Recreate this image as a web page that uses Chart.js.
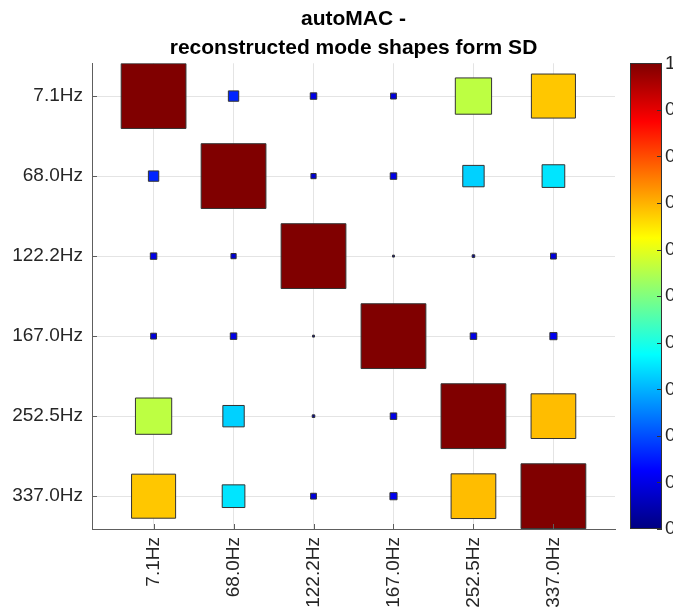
<!DOCTYPE html>
<html>
<head>
<meta charset="utf-8">
<script src="https://cdn.jsdelivr.net/npm/chart.js@4/dist/chart.umd.min.js"></script>
<style>
  html, body { margin: 0; padding: 0; background: #fff; overflow: hidden; width: 673px; height: 609px; }
  #wrap { position: relative; width: 673px; height: 609px; overflow: hidden; }
  #main { position: absolute; left: 0; top: 0; }
  #cbar { position: absolute; left: 600px; top: 0; }
</style>
</head>
<body>
<div id="wrap">
  <canvas id="main" width="673" height="609"></canvas>
  <canvas id="cbar" width="120" height="609"></canvas>
</div>
<script>
// Identified modes (both axes)
const modes = ['7.1Hz', '68.0Hz', '122.2Hz', '167.0Hz', '252.5Hz', '337.0Hz'];

// AutoMAC values, one row per mode
const mac_7_1   = [1.00, 0.16, 0.10, 0.09, 0.56, 0.68];
const mac_68_0  = [0.16, 1.00, 0.08, 0.10, 0.33, 0.35];
const mac_122_2 = [0.10, 0.08, 1.00, 0.03, 0.04, 0.09];
const mac_167_0 = [0.09, 0.10, 0.03, 1.00, 0.10, 0.11];
const mac_252_5 = [0.56, 0.33, 0.04, 0.10, 1.00, 0.69];
const mac_337_0 = [0.68, 0.35, 0.09, 0.11, 0.69, 1.00];
const macRows = [mac_7_1, mac_68_0, mac_122_2, mac_167_0, mac_252_5, mac_337_0];

// Colour bar ticks
const cbarTicks = [0, 0.1, 0.2, 0.3, 0.4, 0.5, 0.6, 0.7, 0.8, 0.9, 1];

const FONT = '"Liberation Sans", Arial, sans-serif';
const AXIS = '#5e5e5e';
const TXT = '#262626';
const TICK_SIZE = 19;

// MATLAB-style jet colour map
function jetRGB(v) {
  const c = t => Math.max(0, Math.min(1, t));
  return [c(1.5 - Math.abs(4 * v - 3)), c(1.5 - Math.abs(4 * v - 2)), c(1.5 - Math.abs(4 * v - 1))]
    .map(t => Math.round(t * 255));
}
function jet(v) { const [r, g, b] = jetRGB(v); return `rgb(${r},${g},${b})`; }

const points = [];
macRows.forEach((row, i) => row.forEach((v, j) => points.push({ x: j + 1, y: i + 1, v })));

const catTicks = s => { s.ticks = modes.map((_, k) => ({ value: k + 1 })); };

// short inward tick marks on the left and bottom axes
const innerTicks = {
  id: 'innerTicks',
  afterDraw(chart) {
    const { ctx, chartArea: a, scales: { x, y } } = chart;
    ctx.save();
    ctx.strokeStyle = AXIS;
    ctx.lineWidth = 1;
    ctx.beginPath();
    x.ticks.forEach(t => { const p = Math.round(x.getPixelForValue(t.value)) + 0.5; ctx.moveTo(p, a.bottom); ctx.lineTo(p, a.bottom - 5); });
    y.ticks.forEach(t => { const p = Math.round(y.getPixelForValue(t.value)) + 0.5; ctx.moveTo(a.left, p); ctx.lineTo(a.left + 5, p); });
    ctx.stroke();
    ctx.restore();
  }
};

new Chart(document.getElementById('main'), {
  type: 'scatter',
  data: {
    datasets: [{
      data: points,
      pointStyle: 'rect',
      pointRadius: ctx => {
        const xs = ctx.chart.scales.x;
        const unit = Math.abs(xs.getPixelForValue(1) - xs.getPixelForValue(0));
        return ctx.raw.v * 0.81 * unit / Math.SQRT2;
      },
      backgroundColor: ctx => jet(ctx.raw.v),
      borderColor: '#333333',
      borderWidth: 1
    }]
  },
  options: {
    responsive: false,
    animation: false,
    events: [],
    layout: { padding: { left: 0, right: 58, top: 0, bottom: 0 } },
    plugins: {
      legend: { display: false },
      tooltip: { enabled: false },
      title: {
        display: true,
        fullSize: false, // centred over the plot area
        text: ['autoMAC -', 'reconstructed mode shapes form SD'],
        color: '#000',
        font: { family: FONT, size: 21, weight: 'bold', lineHeight: 1.38 },
        padding: { top: 5, bottom: 0.3 }
      }
    },
    scales: {
      x: {
        type: 'linear', min: 0.23, max: 6.77,
        afterBuildTicks: catTicks,
        afterFit: s => { s.height = 80; },
        ticks: {
          autoSkip: false, maxRotation: 90, minRotation: 90, padding: 8,
          color: TXT, font: { family: FONT, size: TICK_SIZE },
          callback: v => modes[v - 1]
        },
        grid: { color: '#e4e4e4', drawTicks: false },
        border: { color: AXIS }
      },
      y: {
        type: 'linear', reverse: true, min: 0.59, max: 6.41,
        afterBuildTicks: catTicks,
        afterFit: s => { s.width = 92; },
        ticks: {
          autoSkip: false, padding: 9,
          color: TXT, font: { family: FONT, size: TICK_SIZE },
          callback: v => modes[v - 1]
        },
        grid: { color: '#e4e4e4', drawTicks: false },
        border: { color: AXIS }
      }
    }
  },
  plugins: [innerTicks]
});

// colour bar: frame and inward ticks on its right edge
const cbarFrame = {
  id: 'cbarFrame',
  afterDatasetsDraw(chart) {
    const { ctx, chartArea: a, scales: { y } } = chart;
    ctx.save();
    ctx.strokeStyle = '#333333';
    ctx.lineWidth = 1;
    ctx.strokeRect(Math.round(a.left) + 0.5, Math.round(a.top) + 0.5, Math.round(a.right - a.left) - 1, Math.round(a.bottom - a.top) - 1);
    ctx.beginPath();
    y.ticks.forEach(t => {
      const p = Math.round(y.getPixelForValue(t.value)) + 0.5;
      ctx.moveTo(a.right, p); ctx.lineTo(a.right - 5, p);
    });
    ctx.stroke();
    ctx.restore();
  }
};

new Chart(document.getElementById('cbar'), {
  type: 'bar',
  data: {
    labels: ['MAC'],
    datasets: [{
      data: [[0, 1]],
      barPercentage: 1,
      categoryPercentage: 1,
      borderWidth: 0,
      backgroundColor: ctx => {
        const chart = ctx.chart;
        if (!chart.chartArea) return '#800000';
        const y = chart.scales.y;
        const g = chart.ctx.createLinearGradient(0, y.getPixelForValue(0), 0, y.getPixelForValue(1));
        for (let k = 0; k <= 64; k++) g.addColorStop(k / 64, jet(k / 64));
        return g;
      }
    }]
  },
  options: {
    responsive: false,
    animation: false,
    events: [],
    layout: { padding: { left: 30, right: 0, top: 63.3, bottom: 80 } },
    plugins: { legend: { display: false }, tooltip: { enabled: false } },
    scales: {
      x: { display: false },
      y: {
        position: 'right', min: 0, max: 1,
        afterBuildTicks: s => { s.ticks = cbarTicks.map(v => ({ value: v })); },
        afterFit: s => { s.width = 58; },
        ticks: {
          padding: 3, color: TXT, font: { family: FONT, size: TICK_SIZE },
          callback: v => (v === 0 || v === 1) ? String(v) : v.toFixed(1)
        },
        grid: { display: false, drawTicks: false },
        border: { display: false }
      }
    }
  },
  plugins: [cbarFrame]
});
</script>
</body>
</html>
